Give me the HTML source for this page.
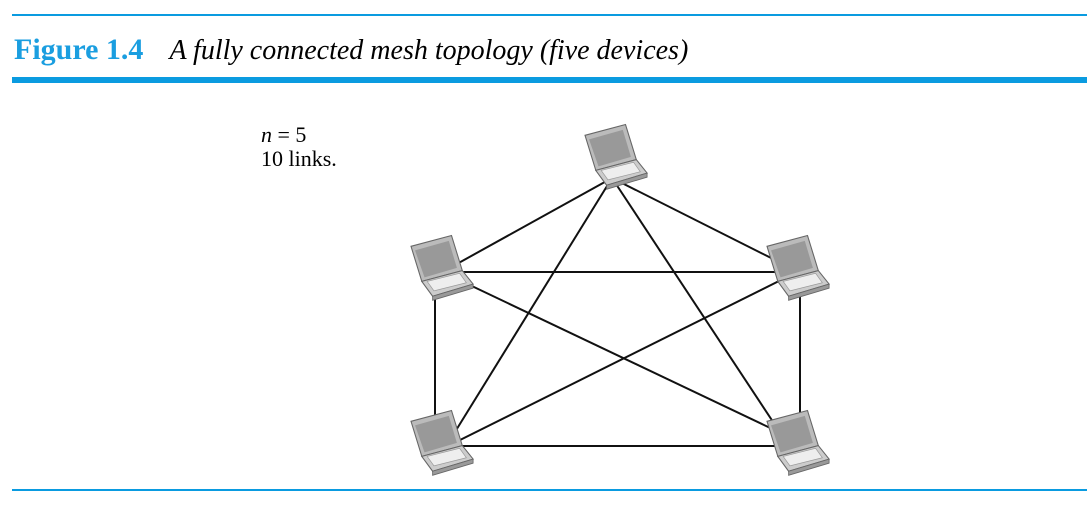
<!DOCTYPE html>
<html><head><style>
body{margin:0;width:1087px;height:506px;background:#fff;overflow:hidden;position:relative;font-family:"Liberation Serif",serif}
.t{position:absolute;left:14px;top:33px;white-space:nowrap}
.t b{color:#1a9ee0;font-weight:bold;font-size:30px}
.t i{margin-left:26px;font-size:28px}
.n{position:absolute;left:261px;top:123px;font-size:22px;line-height:24px}
</style></head><body>
<div style="position:absolute;left:12px;top:14px;width:1075px;height:2px;background:#0a9be0"></div>
<div class="t"><b>Figure 1.4</b><i>A fully connected mesh topology (five devices)</i></div>
<div style="position:absolute;left:12px;top:77px;width:1075px;height:6px;background:#0a9be0"></div>
<div style="position:absolute;left:12px;top:489px;width:1075px;height:2px;background:#0a9be0"></div>
<div class="n"><i>n</i> = 5<br>10 links.</div>
<svg width="1087" height="506" style="position:absolute;left:0;top:0">
<defs>
<g id="lp" transform="scale(1.35)">
<polygon points="-20,-22 10,-30 18,-4 -12,4" fill="#bbb" stroke="#666" stroke-width="0.8"/>
<polygon points="-17,-19 8,-26 14,-6 -10,1" fill="#999"/>
<polygon points="-12,4 18,-4 26,6 -4,15" fill="#ccc" stroke="#666" stroke-width="0.8"/>
<polygon points="-8,4 16,-2 21,5 -3,11" fill="#eee" stroke="#999" stroke-width="0.5"/>
<polygon points="-4,15 26,6 26,9 -4,18" fill="#999" stroke="#666" stroke-width="0.6"/>
</g>
</defs>
<g stroke="#111" stroke-width="2" fill="none">
<line x1="612" y1="178" x2="455" y2="265"/>
<line x1="612" y1="178" x2="785" y2="265"/>
<line x1="612" y1="178" x2="450" y2="440"/>
<line x1="612" y1="178" x2="785" y2="440"/>
<line x1="455" y1="272" x2="785" y2="272"/>
<line x1="455" y1="278" x2="785" y2="435"/>
<line x1="785" y1="278" x2="450" y2="445"/>
<line x1="435" y1="290" x2="435" y2="425"/>
<line x1="800" y1="290" x2="800" y2="425"/>
<line x1="455" y1="446" x2="780" y2="446"/>
</g>
<use href="#lp" x="612" y="165"/>
<use href="#lp" x="438" y="276"/>
<use href="#lp" x="794" y="276"/>
<use href="#lp" x="438" y="451"/>
<use href="#lp" x="794" y="451"/>
</svg>
</body></html>
